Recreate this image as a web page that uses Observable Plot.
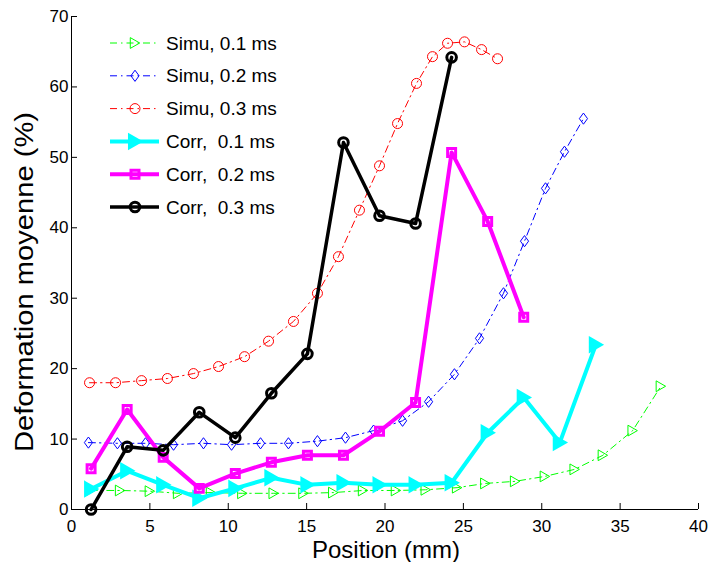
<!DOCTYPE html>
<html><head><meta charset="utf-8">
<script src="https://cdn.jsdelivr.net/npm/d3@7"></script>
<script src="https://cdn.jsdelivr.net/npm/@observablehq/plot@0.6"></script>
<style>
body{margin:0;background:#fff;}
#chart{position:relative;width:710px;height:562px;}
</style></head><body><div id="chart"></div>
<script>
// ---- data ----
const xTicks = [0, 5, 10, 15, 20, 25, 30, 35, 40];
const yTicks = [0, 10, 20, 30, 40, 50, 60, 70];
const xLabel = "Position (mm)";
const yLabel = "Deformation moyenne (%)";
const legendLabels = ["Simu, 0.1 ms", "Simu, 0.2 ms", "Simu, 0.3 ms", "Corr,  0.1 ms", "Corr,  0.2 ms", "Corr,  0.3 ms"];

const simu01X = [1.2, 3.1, 5.0, 6.8, 8.9, 10.9, 12.9, 14.8, 16.7, 18.6, 20.7, 22.6, 24.6, 26.4, 28.3, 30.2, 32.1, 33.9, 35.8, 37.6];
const simu01Y = [2.7, 2.7, 2.6, 2.3, 2.4, 2.3, 2.3, 2.3, 2.4, 2.7, 2.7, 2.8, 3.1, 3.7, 4.0, 4.7, 5.7, 7.7, 11.2, 17.5];

const simu02X = [1.08, 2.93, 4.72, 6.51, 8.42, 10.21, 12.06, 13.84, 15.69, 17.48, 19.27, 21.12, 22.78, 24.43, 26.03, 27.56, 28.9, 30.24, 31.45, 32.66];
const simu02Y = [9.5, 9.4, 9.4, 9.2, 9.4, 9.2, 9.4, 9.4, 9.7, 10.2, 11.2, 12.6, 15.3, 19.2, 24.3, 30.7, 38.1, 45.6, 50.8, 55.5];

const simu03X = [1.15, 2.81, 4.47, 6.12, 7.78, 9.38, 11.04, 12.57, 14.16, 15.69, 17.03, 18.37, 19.65, 20.8, 22.01, 23.03, 23.99, 25.07, 26.16, 27.18];
const simu03Y = [18.0, 18.0, 18.3, 18.6, 19.3, 20.3, 21.7, 23.9, 26.7, 30.7, 35.9, 42.5, 48.8, 54.8, 60.5, 64.3, 66.2, 66.4, 65.3, 64.0];

const corrX = [1.25, 3.55, 5.85, 8.15, 10.45, 12.75, 15.05, 17.35, 19.65, 21.95, 24.25, 26.55, 28.85, 31.15, 33.45];
const corr01Y = [2.9, 5.5, 3.5, 1.6, 3.0, 4.5, 3.5, 3.8, 3.5, 3.5, 3.8, 10.9, 15.9, 9.5, 23.4];
const corr02Y = [5.8, 14.2, 7.4, 3.0, 5.1, 6.7, 7.7, 7.7, 11.1, 15.2, 50.7, 40.9, 27.3];
const corr03Y = [0.0, 8.9, 8.4, 13.8, 10.2, 16.5, 22.1, 52.1, 41.7, 40.6, 64.2];

// ---- symbols ----
const triRight = {draw(ctx, size) { const r = Math.sqrt(size / Math.PI);
  ctx.moveTo(-1.05 * r, -1.2 * r); ctx.lineTo(1.05 * r, 0); ctx.lineTo(-1.05 * r, 1.2 * r); ctx.closePath(); }};
const diamondM = {draw(ctx, size) { const r = Math.sqrt(size / Math.PI);
  ctx.moveTo(0, -1.3 * r); ctx.lineTo(0.95 * r, 0); ctx.lineTo(0, 1.3 * r); ctx.lineTo(-0.95 * r, 0); ctx.closePath(); }};

const rows = (xs, ys) => ys.map((y, i) => ({x: xs[i], y}));
const DASH = "7,4,1.5,4";
const series = [
  {data: rows(simu01X, simu01Y), color: "#00ff00", lw: 1, dash: DASH, symbol: triRight, r: 4.5, sw: 1, fill: "none"},
  {data: rows(simu02X, simu02Y), color: "#0000ff", lw: 1, dash: DASH, symbol: diamondM, r: 4.3, sw: 1, fill: "none"},
  {data: rows(simu03X, simu03Y), color: "#ff0000", lw: 1, dash: DASH, symbol: "circle", r: 5, sw: 1, fill: "none"},
  {data: rows(corrX, corr01Y), color: "#00ffff", lw: 4, dash: null, symbol: triRight, r: 5.5, sw: 2.5, fill: "#00ffff"},
  {data: rows(corrX, corr02Y), color: "#ff00ff", lw: 4, dash: null, symbol: "square", r: 4.5, sw: 3, fill: "none"},
  {data: rows(corrX, corr03Y), color: "#000000", lw: 3.5, dash: null, symbol: "circle", r: 4.8, sw: 3, fill: "none"}
];

const marks = [];
for (const s of series) {
  marks.push(Plot.line(s.data, {x: "x", y: "y", stroke: s.color, strokeWidth: s.lw, strokeDasharray: s.dash}));
  marks.push(Plot.dot(s.data, {x: "x", y: "y", symbol: s.symbol, r: s.r, stroke: s.color, strokeWidth: s.sw, fill: s.fill}));
}

const chart = Plot.plot({
  width: 710, height: 562,
  marginLeft: 71, marginRight: 12, marginTop: 16, marginBottom: 53,
  style: {fontFamily: "'Liberation Sans', Arial, sans-serif", fontSize: "17px", background: "white", color: "black"},
  x: {domain: [0, 40]},
  y: {domain: [0, 70]},
  marks: [
    ...marks,
    Plot.ruleX([0], {stroke: "black", strokeWidth: 1}),
    Plot.ruleY([0], {stroke: "black", strokeWidth: 1}),
    Plot.axisX({ticks: xTicks, tickSize: -6, tickPadding: 16, label: null, fontSize: 17, stroke: "black"}),
    Plot.axisY({ticks: yTicks, tickSize: -6, tickPadding: 9, label: null, fontSize: 17, stroke: "black"})
  ]
});
document.getElementById("chart").appendChild(chart);

const svg = d3.select(chart);
svg.append("text").attr("x", 386).attr("y", 557.5).attr("text-anchor", "middle")
  .attr("font-size", 24).attr("fill", "black").text(xLabel);
svg.append("text").attr("transform", "translate(33,282) rotate(-90)").attr("text-anchor", "middle")
  .attr("font-size", 25).attr("fill", "black").attr("textLength", 340).attr("lengthAdjust", "spacingAndGlyphs").text(yLabel);

// legend
const lg = svg.append("g").attr("text-anchor", "start");
series.forEach((s, i) => {
  const cy = 43 + i * 32.8;
  lg.append("line").attr("x1", 110).attr("x2", 159).attr("y1", cy).attr("y2", cy)
    .attr("stroke", s.color).attr("stroke-width", s.lw).attr("stroke-dasharray", s.dash);
  const sym = typeof s.symbol === "string" ? (s.symbol === "circle" ? d3.symbolCircle : d3.symbolSquare) : s.symbol;
  lg.append("path").attr("transform", `translate(135,${cy})`)
    .attr("d", d3.symbol(sym, s.r * s.r * Math.PI)())
    .attr("stroke", s.color).attr("stroke-width", s.sw).attr("fill", s.fill === "none" ? "none" : s.fill);
  lg.append("text").attr("x", 166).attr("y", cy + 6.5).attr("font-size", 19).attr("fill", "black")
    .attr("text-anchor", "start").style("white-space", "pre").text(legendLabels[i]);
});
</script></body></html>
